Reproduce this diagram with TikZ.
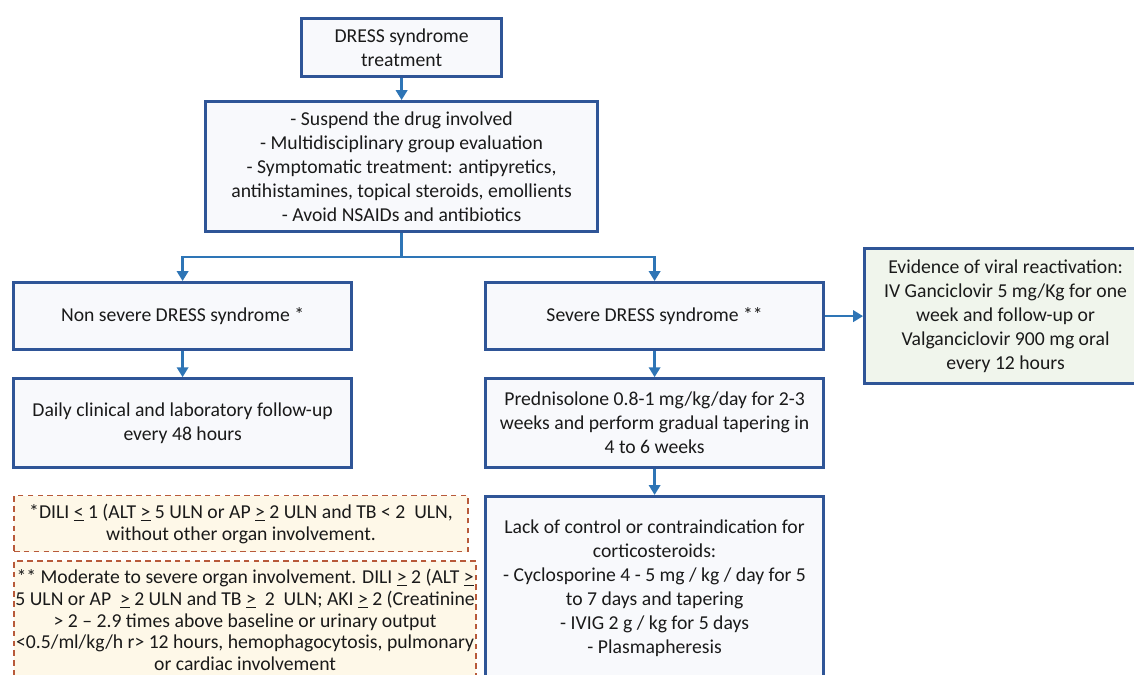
\documentclass[tikz,border=0pt]{standalone}
\usepackage{fontspec}
\setmainfont{Carlito}
\usetikzlibrary{arrows.meta, positioning}
\definecolor{boxBlue}{HTML}{2F5597}
\definecolor{arrowBlue}{HTML}{2E75B6}
\definecolor{boxFill}{HTML}{F8F9FC}
\definecolor{viralFill}{HTML}{F0F5EC}
\definecolor{noteFill}{HTML}{FEF8E8}
\definecolor{noteRed}{HTML}{B85A3A}
\definecolor{textDark}{HTML}{1A1A1A}
\newcommand{\ulge}{\underline{>}}
\newcommand{\ulle}{\underline{<}}

\begin{document}
\begin{tikzpicture}[
    paso/.style={rectangle, draw=boxBlue, line width=2.1pt, fill=boxFill,
      align=center, inner sep=2pt, text=textDark,
      font=\fontsize{14}{17}\selectfont},
    viral/.style={paso, fill=viralFill},
    nota/.style={rectangle, draw=noteRed, dash pattern=on 4pt off 3pt,
      line width=1pt, fill=noteFill, align=center, inner sep=1pt,
      text=textDark, font=\fontsize{14}{15.5}\selectfont},
    flecha/.style={-{Triangle[length=7pt, width=8pt]}, line width=1.8pt, arrowBlue}]
    \useasboundingbox (0,0) rectangle (28.35,-16.85);
    \node[paso, minimum width=5cm, minimum height=1.45cm] at (10.04,-1.19) (inicio)
      {DRESS syndrome\\treatment};
    \node[paso, minimum width=9.8cm, minimum height=3.25cm, below=0.55cm of inicio] (medidas)
      {- Suspend the drug involved\\- Multidisciplinary group evaluation\\
       - Symptomatic treatment: antipyretics,\\antihistamines, topical steroids, emollients\\
       - Avoid NSAIDs and antibiotics};
    \coordinate[below=0.6cm of medidas] (bifurca);
    \node[paso, minimum width=8.45cm, minimum height=1.68cm, below=1.2cm of medidas,
      xshift=-5.475cm] (leve) {Non severe DRESS syndrome *};
    \node[paso, minimum width=8.45cm, minimum height=1.68cm, below=1.2cm of medidas,
      xshift=6.325cm] (grave) {Severe DRESS syndrome **};
    \node[paso, minimum width=8.45cm, minimum height=2.22cm, below=0.65cm of leve] (control)
      {Daily clinical and laboratory follow-up\\every 48 hours};
    \node[paso, minimum width=8.45cm, minimum height=2.22cm, below=0.65cm of grave] (predni)
      {Prednisolone 0.8-1 mg/kg/day for 2-3\\weeks and perform gradual tapering in\\4 to 6 weeks};
    \node[paso, minimum width=8.45cm, minimum height=4.6cm, below=0.65cm of predni] (rescate)
      {Lack of control or contraindication for\\corticosteroids:\\
       - Cyclosporine 4 - 5 mg / kg / day for 5\\to 7 days and tapering\\
       - IVIG 2 g / kg for 5 days\\- Plasmapheresis};
    \node[viral, minimum width=7.05cm, minimum height=3.38cm, right=0.95cm of grave] (virus)
      {Evidence of viral reactivation:\\IV Ganciclovir 5 mg/Kg for one\\
       week and follow-up or\\Valganciclovir 900 mg oral\\every 12 hours};
    \draw[flecha] (inicio) -- (medidas);
    \draw[line width=1.8pt, arrowBlue] (medidas) -- (bifurca);
    \draw[flecha] (bifurca) -| (leve);
    \draw[flecha] (bifurca) -| (grave);
    \draw[flecha] (leve) -- (control);
    \draw[flecha] (grave) -- (predni);
    \draw[flecha] (predni) -- (rescate);
    \draw[flecha] (grave) -- (virus);
    % notas
    \node[nota, minimum width=11.35cm, minimum height=1.4cm, below=0.65cm of control.south west,
      anchor=north west, xshift=0.03cm] (nota1)
      {*DILI \ulle{} 1 (ALT \ulge{} 5 ULN or AP \ulge{} 2 ULN and TB < 2~ ULN,\\
       without other organ involvement.};
    \node[nota, minimum width=11.35cm, minimum height=2.95cm, below=0.2cm of nota1.south west,
      anchor=north west] (nota2)
      {** Moderate to severe organ involvement. DILI \ulge{} 2 (ALT \ulge\\
       5 ULN or AP~ \ulge{} 2 ULN and TB \ulge~ 2~ ULN; AKI \ulge{} 2 (Creatinine\\
       > 2 -- 2.9 times above baseline or urinary output\\
       <0.5/ml/kg/h r> 12 hours, hemophagocytosis, pulmonary\\
       or cardiac involvement};
  \end{tikzpicture}
\end{document}
